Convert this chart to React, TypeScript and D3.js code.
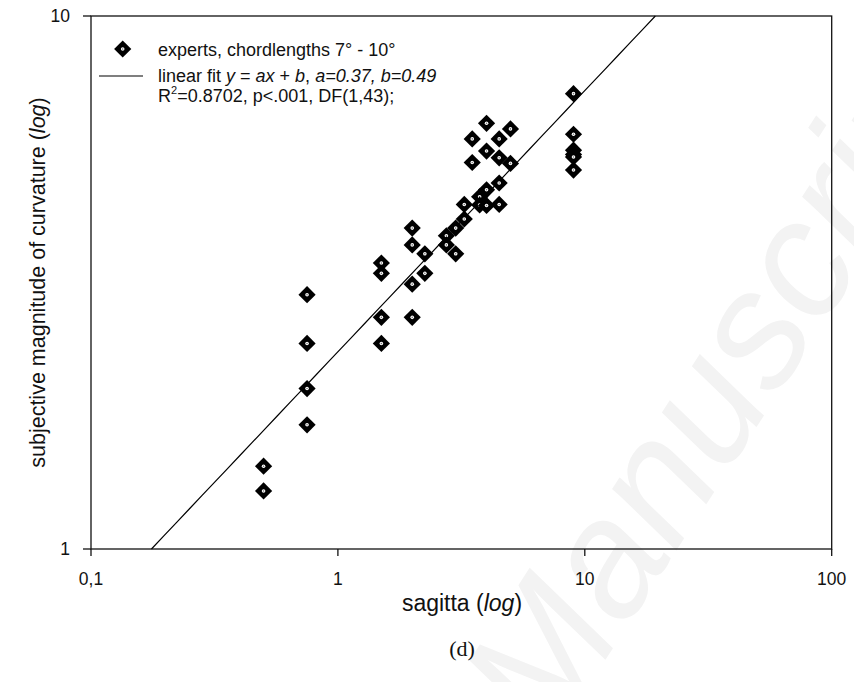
import React from "react";
import * as d3 from "d3";

const sagitta = [
  0.5, 0.5,
  0.75, 0.75, 0.75, 0.75,
  1.5, 1.5, 1.5, 1.5,
  2, 2, 2, 2,
  2.25, 2.25,
  2.75, 2.75,
  3, 3,
  3.25, 3.25,
  3.5, 3.5,
  3.75, 3.75,
  4, 4, 4, 4,
  4.5, 4.5, 4.5, 4.5,
  5, 5,
  9, 9, 9, 9, 9, 9,
];
const magnitude = [
  1.43, 1.285,
  3.0, 2.43, 2.0, 1.71,
  3.44, 3.29, 2.72, 2.43,
  4.0, 3.72, 3.14, 2.72,
  3.58, 3.29,
  3.87, 3.72,
  4.0, 3.58,
  4.43, 4.16,
  5.88, 5.31,
  4.58, 4.42,
  6.29, 5.58, 4.72, 4.41,
  5.88, 5.42, 4.86, 4.43,
  6.14, 5.29,
  7.15, 6.0, 5.6, 5.5, 5.44, 5.14,
];
const xTicks = [0.1, 1, 10, 100];
const xTickLabels = ["0,1", "1", "10", "100"];
const yTicks = [1, 10];
const yTickLabels = ["1", "10"];
// regression in log-log space: log10(y) = intercept + slope * log10(x)
const fitIntercept = 0.37;
const fitSlope = 0.49;

const W = 854;
const H = 682;
const L = 91, R = 831.7, T = 16, B = 549;
const FONT = "'Liberation Sans', Arial, sans-serif";

function Marker({ x, y }: { x: number; y: number }) {
  const s = 8.6;
  return (
    <g transform={`translate(${x},${y})`}>
      <path d={`M0,${-s}L${s},0L0,${s}L${-s},0Z`} fill="#000" />
      <circle r={1.8} fill="#fff" />
      <circle r={0.8} fill="#777" />
    </g>
  );
}

export default function App() {
  const x = d3.scaleLog().domain([0.1, 100]).range([L, R]);
  const y = d3.scaleLog().domain([1, 10]).range([B, T]);

  const lx0 = Math.pow(10, (0 - fitIntercept) / fitSlope);
  const lx1 = Math.pow(10, (1 - fitIntercept) / fitSlope);
  const xs = d3.range(0, 41).map((i) => lx0 * Math.pow(lx1 / lx0, i / 40));
  const line = d3
    .line<number>()
    .x((d) => x(d))
    .y((d) => y(Math.pow(10, fitIntercept + fitSlope * Math.log10(d))));

  return (
    <svg width={W} height={H} style={{ display: "block", position: "absolute", left: 0, top: 0 }}>
      <rect width={W} height={H} fill="#fff" />
      <text
        transform="translate(550,745) rotate(-57)"
        fontFamily={FONT}
        fontStyle="italic"
        fontSize={165}
        fill="#f3f3f3"
      >
        Manuscript
      </text>
      <rect x={L} y={T} width={R - L} height={B - T} fill="none" stroke="#111" strokeWidth={1.3} />
      {xTicks.map((t, i) => (
        <g key={"xt" + i}>
          <line x1={x(t)} x2={x(t)} y1={B} y2={B + 7} stroke="#111" strokeWidth={1.3} />
          <text x={x(t)} y={585} textAnchor="middle" fontFamily={FONT} fontSize={17.5} fill="#111">
            {xTickLabels[i]}
          </text>
        </g>
      ))}
      {yTicks.map((t, i) => (
        <g key={"yt" + i}>
          <line x1={L - 8} x2={L} y1={y(t)} y2={y(t)} stroke="#111" strokeWidth={1.3} />
          <text x={70} y={y(t) + 6} textAnchor="end" fontFamily={FONT} fontSize={17.5} fill="#111">
            {yTickLabels[i]}
          </text>
        </g>
      ))}
      <path d={line(xs) || ""} fill="none" stroke="#000" strokeWidth={1.2} />
      {sagitta.map((s, i) => (
        <Marker key={"p" + i} x={x(s)} y={y(magnitude[i])} />
      ))}
      <Marker x={122.7} y={49} />
      <text x={158} y={56} fontFamily={FONT} fontSize={18} fill="#111">
        experts, chordlengths 7° - 10°
      </text>
      <line x1={99} x2={143} y1={76} y2={76} stroke="#000" strokeWidth={1.2} />
      <text x={158} y={81.5} fontFamily={FONT} fontSize={18} fill="#111">
        linear fit <tspan fontStyle="italic">y</tspan> = <tspan fontStyle="italic">ax</tspan> +{" "}
        <tspan fontStyle="italic">b</tspan>, <tspan fontStyle="italic">a=0.37, b=0.49</tspan>
      </text>
      <text x={158} y={101.5} fontFamily={FONT} fontSize={18} fill="#111">
        R<tspan fontSize={11} dy={-8}>2</tspan>
        <tspan dy={8}>=0.8702, p&lt;.001, DF(1,43);</tspan>
      </text>
      <text x={462} y={611} textAnchor="middle" fontFamily={FONT} fontSize={23} fill="#111">
        sagitta (<tspan fontStyle="italic">log</tspan>)
      </text>
      <text
        transform={`translate(45,${(T + B) / 2}) rotate(-90)`}
        textAnchor="middle"
        fontFamily={FONT}
        fontSize={21.5}
        fill="#111"
      >
        subjective magnitude of curvature (<tspan fontStyle="italic">log</tspan>)
      </text>
      <text x={462} y={656} textAnchor="middle" fontFamily="'Liberation Serif', 'Times New Roman', serif" fontSize={22} fill="#111">
        (d)
      </text>
    </svg>
  );
}
